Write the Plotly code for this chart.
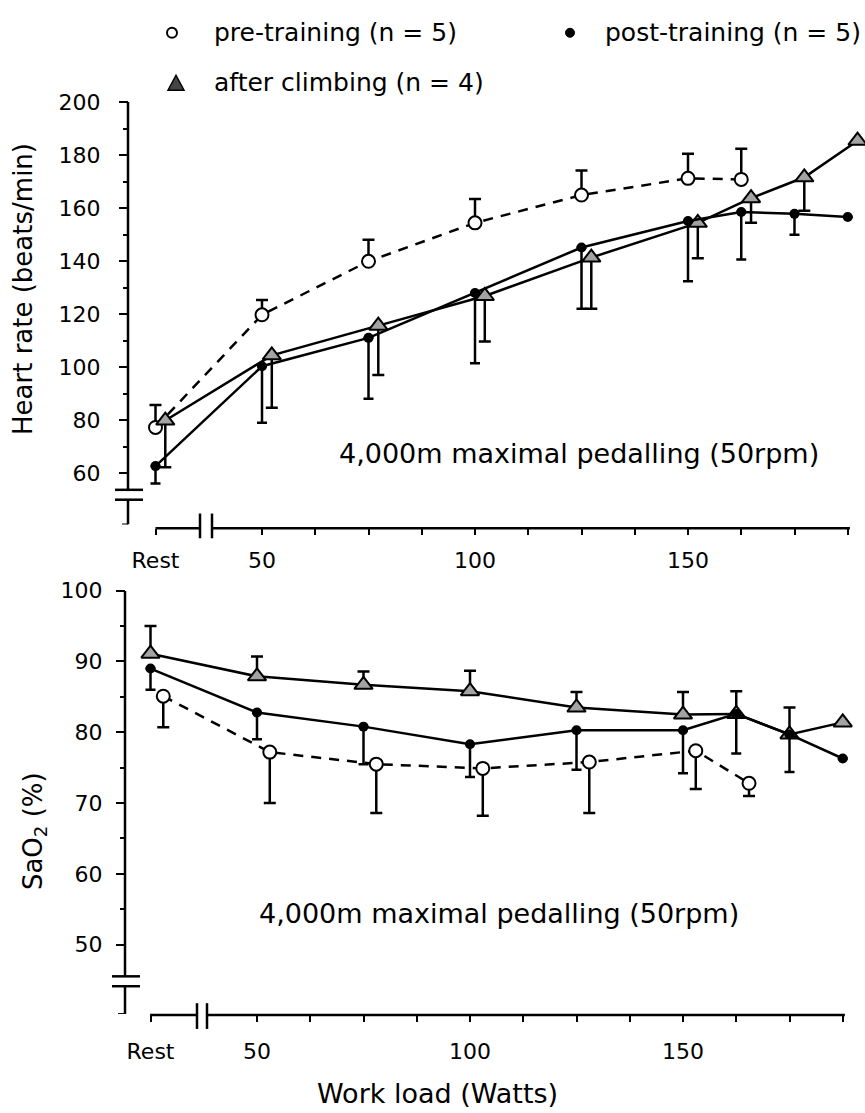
import plotly.graph_objects as go

W, H = 865, 1113


def PX(x):
    return x / W


def PY(y):
    return 1 - y / H


# ---------------- data ----------------
REST = 25  # axis position used for the "Rest" category
loads_pre = [REST, 50, 75, 100, 125, 150, 162.5]
loads_all = [REST, 50, 75, 100, 125, 150, 162.5, 175, 187.5]
x_tick_vals = [REST, 50, 100, 150]
x_tick_text = ["Rest", "50", "100", "150"]
x_minor_vals = [62.5, 75, 87.5, 112.5, 125, 137.5, 162.5, 175, 187.5]

hr_tick_vals = [60, 80, 100, 120, 140, 160, 180, 200]
hr_minor_vals = [70, 90, 110, 130, 150, 170, 190]
sao2_tick_vals = [50, 60, 70, 80, 90, 100]
sao2_minor_vals = [55, 65, 75, 85, 95]

hr_pre = [77.2, 119.7, 139.9, 154.4, 164.9, 171.2, 170.8]
hr_pre_sd_up = [8.5, 5.6, 8.1, 9.0, 9.3, 9.3, 11.6]
hr_post = [62.6, 100.3, 111.0, 127.9, 145.1, 155.1, 158.5, 157.8, 156.6]
hr_post_sd_down = [6.6, 21.3, 23.0, 26.5, 23.1, 22.7, 17.9, 7.9, 0]
hr_climb = [79.8, 104.4, 115.6, 126.8, 141.3, 154.4, 163.7, 171.6, 185.4]
hr_climb_sd_down = [17.6, 19.8, 18.6, 17.2, 19.3, 13.4, 9.3, 12.6, 0]

sao2_pre = [85.1, 77.2, 75.5, 74.9, 75.8, 77.4, 72.8]
sao2_pre_sd_down = [4.4, 7.2, 6.9, 6.7, 7.2, 5.4, 1.8]
sao2_post = [89.0, 82.8, 80.8, 78.3, 80.3, 80.3, 82.6, 79.7, 76.3]
sao2_post_sd_down = [3.0, 3.8, 5.3, 4.6, 5.6, 6.1, 5.6, 5.3, 0]
sao2_climb = [91.1, 87.9, 86.7, 85.8, 83.5, 82.5, 82.6, 79.7, 81.4]
sao2_climb_sd_up = [3.9, 2.8, 1.9, 2.9, 2.2, 3.2, 3.2, 3.8, 0]

legend_labels = ["pre-training (n = 5)", "post-training (n = 5)", "after climbing (n = 4)"]
panel_note = "4,000m maximal pedalling (50rpm)"

# ---------------- styles ----------------
FONT = "DejaVu Sans"
BLACK = "#000000"
TRI_FILL = "#a3a3a3"
LW = 2.5
OFF_CLIMB_TOP = 2.3   # small horizontal jitter used in the original drawing
OFF_PRE_BOT = 3.0


def shift(xs, d):
    return [x + d for x in xs]


def zeros(n):
    return [0] * n


fig = go.Figure()


def add_series(x, y, up, down, kind, xa, ya):
    if kind == "pre":
        marker = dict(symbol="circle", size=13, color="white", line=dict(color=BLACK, width=2))
        line = dict(color=BLACK, width=LW, dash="10px,8px")
        cap = 6
    elif kind == "post":
        marker = dict(symbol="circle", size=10, color=BLACK, line=dict(color=BLACK, width=0))
        line = dict(color=BLACK, width=LW)
        cap = 5
    else:
        marker = dict(symbol="triangle-up", size=16, color=TRI_FILL, line=dict(color=BLACK, width=2))
        line = dict(color=BLACK, width=LW)
        cap = 6
    fig.add_trace(go.Scatter(
        x=x, y=y, mode="lines+markers", xaxis=xa, yaxis=ya,
        line=line, marker=marker, showlegend=False, cliponaxis=False,
        error_y=dict(type="data", symmetric=False, array=up, arrayminus=down,
                     color=BLACK, thickness=LW, width=cap),
    ))


# top panel (heart rate)
add_series(loads_pre, hr_pre, hr_pre_sd_up, zeros(len(hr_pre)), "pre", "x", "y")
add_series(shift(loads_all, OFF_CLIMB_TOP), hr_climb, zeros(len(hr_climb)), hr_climb_sd_down, "climb", "x", "y")
add_series(loads_all, hr_post, zeros(len(hr_post)), hr_post_sd_down, "post", "x", "y")

# bottom panel (SaO2)
add_series(shift(loads_pre, OFF_PRE_BOT), sao2_pre, zeros(len(sao2_pre)), sao2_pre_sd_down, "pre", "x2", "y2")
add_series(loads_all, sao2_climb, sao2_climb_sd_up, zeros(len(sao2_climb)), "climb", "x2", "y2")
add_series(loads_all, sao2_post, zeros(len(sao2_post)), sao2_post_sd_down, "post", "x2", "y2")

# ---------------- axes ----------------
TOP_LEFT, BOT_LEFT, RIGHT = 128, 125, 860
TOP_XLINE, BOT_XLINE = 522, 1014
top_xrange = [50 - (262 - TOP_LEFT) / 4.26, 50 + (RIGHT - 262) / 4.26]
bot_xrange = [50 - (257 - BOT_LEFT) / 4.26, 50 + (RIGHT - 257) / 4.26]
top_yrange = [40.6, 200]
bot_yrange = [40.2, 100]

tickfont = dict(family=FONT, size=22, color=BLACK)

xcommon = dict(showline=False, showgrid=False, zeroline=False, ticks="outside",
               ticklen=6, tickwidth=2, tickcolor=BLACK, tickmode="array",
               tickvals=x_tick_vals, ticktext=x_tick_text, tickfont=tickfont,
               anchor="free", side="bottom",
               minor=dict(tickmode="array", tickvals=x_minor_vals, ticklen=6,
                          tickwidth=2, tickcolor=BLACK, ticks="outside"))
ycommon = dict(showline=False, showgrid=False, zeroline=False, ticks="outside",
               ticklen=9, tickwidth=2, tickcolor=BLACK, tickmode="array",
               tickfont=tickfont, anchor="free", side="left")

fig.update_layout(
    width=W, height=H,
    margin=dict(l=0, r=0, t=0, b=0),
    paper_bgcolor="white", plot_bgcolor="white",
    font=dict(family=FONT, color=BLACK),
    xaxis=dict(domain=[PX(TOP_LEFT), PX(RIGHT)], range=top_xrange,
               position=PY(TOP_XLINE), ticklabelstandoff=6, **xcommon),
    yaxis=dict(domain=[PY(518), PY(91)], range=top_yrange, tickvals=hr_tick_vals,
               position=PX(TOP_LEFT), ticklabelstandoff=14,
               minor=dict(tickmode="array", tickvals=hr_minor_vals, ticklen=5,
                          tickwidth=1.5, tickcolor=BLACK, ticks="outside"),
               **ycommon),
    xaxis2=dict(domain=[PX(BOT_LEFT), PX(RIGHT)], range=bot_xrange,
                position=PY(BOT_XLINE), ticklabelstandoff=11, **xcommon),
    yaxis2=dict(domain=[PY(1013), PY(585)], range=bot_yrange, tickvals=sao2_tick_vals,
                position=PX(BOT_LEFT), ticklabelstandoff=9,
                minor=dict(tickmode="array", tickvals=sao2_minor_vals, ticklen=5,
                           tickwidth=1.5, tickcolor=BLACK, ticks="outside"),
                **ycommon),
)

shapes = []


def seg(xref, yref, x0, y0, x1, y1, width=LW):
    shapes.append(dict(type="line", xref=xref, yref=yref, x0=x0, y0=y0, x1=x1, y1=y1,
                       line=dict(color=BLACK, width=width), layer="above"))


# top y axis with break
t_brk_hi, t_brk_lo = 60 - (483 - 466) / 2.679, 60 - (493 - 466) / 2.679
seg("paper", "y", PX(TOP_LEFT), top_yrange[1], PX(TOP_LEFT), t_brk_hi)
seg("paper", "y", PX(TOP_LEFT), t_brk_lo, PX(TOP_LEFT), top_yrange[0])
seg("paper", "y", PX(115), t_brk_hi, PX(143), t_brk_hi)
seg("paper", "y", PX(115), t_brk_lo, PX(143), t_brk_lo)
seg("paper", "y", PX(122), top_yrange[0], PX(TOP_LEFT), top_yrange[0], 2)
# top x axis with break
t_xb1, t_xb2 = 50 - (262 - 200) / 4.26, 50 - (262 - 212) / 4.26
seg("x", "paper", 25.0, PY(TOP_XLINE), t_xb1, PY(TOP_XLINE))
seg("x", "paper", t_xb2, PY(TOP_XLINE), 188, PY(TOP_XLINE))
seg("x", "paper", t_xb1, PY(507), t_xb1, PY(532))
seg("x", "paper", t_xb2, PY(507), t_xb2, PY(532))

# bottom y axis with break
b_brk_hi, b_brk_lo = 50 - (975 - 943) / 7.16, 50 - (985 - 943) / 7.16
seg("paper", "y2", PX(BOT_LEFT), bot_yrange[1], PX(BOT_LEFT), b_brk_hi)
seg("paper", "y2", PX(BOT_LEFT), b_brk_lo, PX(BOT_LEFT), bot_yrange[0])
seg("paper", "y2", PX(112), b_brk_hi, PX(140), b_brk_hi)
seg("paper", "y2", PX(112), b_brk_lo, PX(140), b_brk_lo)
seg("paper", "y2", PX(118), bot_yrange[0], PX(BOT_LEFT), bot_yrange[0], 2)
# bottom x axis with break
b_xb1, b_xb2 = 50 - (257 - 197) / 4.26, 50 - (257 - 207) / 4.26
seg("x2", "paper", 24.9, PY(BOT_XLINE), b_xb1, PY(BOT_XLINE))
seg("x2", "paper", b_xb2, PY(BOT_XLINE), 188, PY(BOT_XLINE))
seg("x2", "paper", b_xb1, PY(1002), b_xb1, PY(1028))
seg("x2", "paper", b_xb2, PY(1002), b_xb2, PY(1028))

# legend symbols
shapes.append(dict(type="circle", xref="paper", yref="paper", xsizemode="pixel", ysizemode="pixel",
                   xanchor=PX(172), yanchor=PY(21), x0=-5, x1=5, y0=-5, y1=5,
                   line=dict(color=BLACK, width=2), fillcolor="white"))
shapes.append(dict(type="circle", xref="paper", yref="paper", xsizemode="pixel", ysizemode="pixel",
                   xanchor=PX(570), yanchor=PY(21), x0=-4.5, x1=4.5, y0=-4.5, y1=4.5,
                   line=dict(color=BLACK, width=1), fillcolor=BLACK))
shapes.append(dict(type="path", xref="paper", yref="paper", xsizemode="pixel", ysizemode="pixel",
                   xanchor=PX(176), yanchor=PY(72), path="M -8,-7 L 8,-7 L 0,8 Z",
                   line=dict(color=BLACK, width=1.5), fillcolor="#444444"))

fig.update_layout(shapes=shapes)

ann = []
legfont = dict(family=FONT, size=25, color=BLACK)
ann.append(dict(x=PX(212), y=PY(21), text=legend_labels[0], xanchor="left", yanchor="middle"))
ann.append(dict(x=PX(603), y=PY(21), text=legend_labels[1], xanchor="left", yanchor="middle"))
ann.append(dict(x=PX(212), y=PY(71), text=legend_labels[2], xanchor="left", yanchor="middle"))
for a in ann:
    a.update(xref="paper", yref="paper", showarrow=False, font=legfont)

notefont = dict(family=FONT, size=27, color=BLACK)
titlefont = dict(family=FONT, size=26, color=BLACK)
ann += [
    dict(x=PX(337), y=PY(446), text=panel_note, xanchor="left", yanchor="middle",
         xref="paper", yref="paper", showarrow=False, font=notefont),
    dict(x=PX(257), y=PY(911), text=panel_note, xanchor="left", yanchor="middle",
         xref="paper", yref="paper", showarrow=False, font=notefont),
    dict(x=PX(23), y=PY(280), text="Heart rate (beats/min)", textangle=-90,
         xanchor="center", yanchor="middle", xref="paper", yref="paper",
         showarrow=False, font=titlefont),
    dict(x=PX(34), y=PY(828), text="SaO<sub>2</sub> (%)", textangle=-90,
         xanchor="center", yanchor="middle", xref="paper", yref="paper",
         showarrow=False, font=titlefont),
    dict(x=PX(437), y=PY(1093), text="Work load (Watts)", xanchor="center", yanchor="middle",
         xref="paper", yref="paper", showarrow=False, font=dict(family=FONT, size=27, color=BLACK)),
]
fig.update_layout(annotations=ann)

fig.write_html(
    "out.html",
    config={"displayModeBar": False},
    post_script="document.body.style.margin='0px';document.body.style.overflow='hidden';",
)
